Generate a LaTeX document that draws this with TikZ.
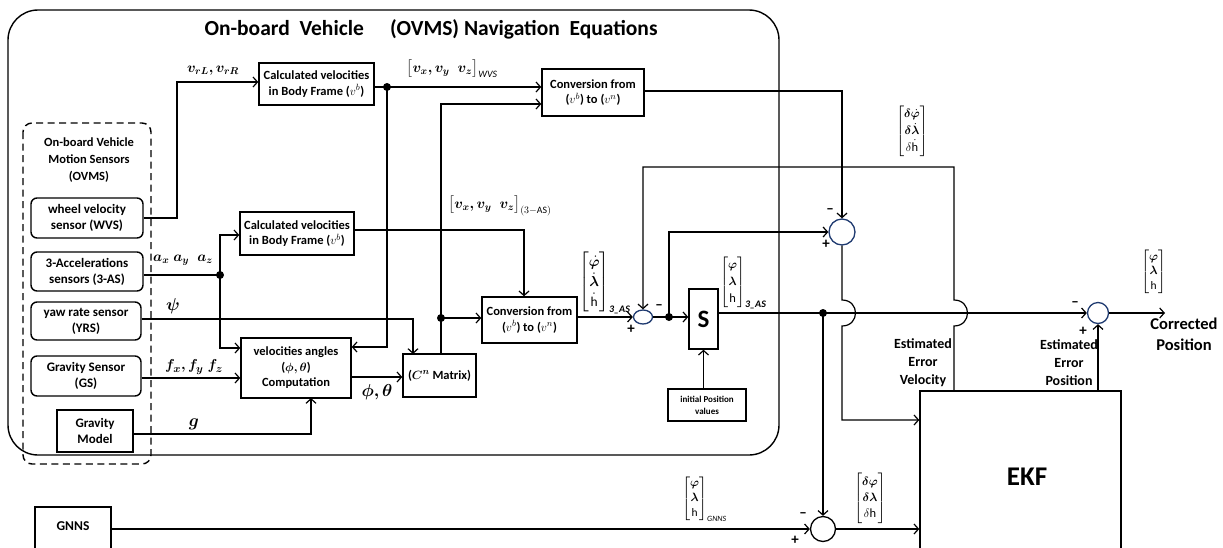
\documentclass[tikz,border=0pt]{standalone}
\usepackage{amsmath,bm}
\usepackage{fontspec}
\setmainfont{Carlito}
\usetikzlibrary{arrows.meta,shapes.geometric,calc}
\definecolor{sumblue}{HTML}{1F3A70}
\tikzset{
 blk/.style={draw, line width=1.4pt, align=center, font=\bfseries\fontsize{12.5}{15.5}\selectfont, inner sep=1pt},
 sensbox/.style={blk, rounded corners=6, font=\bfseries\fontsize{13}{16}\selectfont},
 sumc/.style={draw=sumblue, line width=1.3pt, ellipse, inner sep=0pt},
 ln/.style={line width=1.2pt},
 arr/.style={ln, -{Straight Barb[length=4.5pt,width=10pt,line width=1.2pt]}},
 jdot/.style={circle, fill, inner sep=0pt, minimum size=8pt},
 lbl/.style={font=\bfseries\fontsize{14}{18}\selectfont, align=center},
 mlbl/.style={font=\fontsize{14}{16}\selectfont, inner sep=0pt},
 mat/.style={inner sep=0pt, anchor=west},
 sgn/.style={font=\bfseries\fontsize{15}{15}\selectfont, inner sep=0pt},
}
\newcommand{\subAS}{\text{\bfseries\itshape\fontsize{10}{10}\selectfont 3\_AS}}
\begin{document}
\begin{tikzpicture}[x=1pt,y=-1pt]
\useasboundingbox (0,0) rectangle (1223,547);
\clip (0,0) rectangle (1223,547);
\renewcommand{\arraystretch}{1.15}
% outer frame
\draw[line width=1.4pt, rounded corners=30] (8,10) rectangle (779,455);
\node[font=\bfseries\fontsize{21.5}{24}\selectfont] (title) at (431,29) {On-board\ \ Vehicle\quad\ (OVMS) Navigation\ \ Equations};
% sensors
\draw[line width=1.4pt, dash pattern=on 7pt off 4.5pt, rounded corners=9] (23,123) rectangle (151,464);
\node[lbl, font=\bfseries\fontsize{12.5}{17}\selectfont] (hdr) at (89,160) {On-board Vehicle\\Motion Sensors\\(OVMS)};
\node[sensbox, minimum width=112, minimum height=40] (wvs) at (87,218) {wheel velocity\\sensor (WVS)};
\node[sensbox, minimum width=112, minimum height=39] (as3) at (87,271.5) {3-Accelerations\\sensors (3-AS)};
\node[sensbox, minimum width=110, minimum height=38] (yrs) at (86,321) {yaw rate sensor\\(YRS)};
\node[sensbox, minimum width=110, minimum height=40] (gs) at (86,376) {Gravity Sensor\\(GS)};
\node[blk, minimum width=76, minimum height=42, font=\bfseries\fontsize{13}{16}\selectfont] (gm) at (95,431) {Gravity\\Model};
% blocks
\node[blk, minimum width=115, minimum height=42] (cv1) at (316.5,84) {Calculated velocities\\in Body Frame ($v^{b}$)};
\node[blk, minimum width=114, minimum height=43] (cv2) at (297,233.5) {Calculated velocities\\in Body Frame ($v^{b}$)};
\node[blk, minimum width=110, minimum height=60] (va) at (296,368) {velocities angles\\($\bm{\phi,\theta}$)\\Computation};
\node[blk, minimum width=73, minimum height=43] (cn) at (439.5,375.5) {($\bm{C^{n}}$ Matrix)};
\node[blk, minimum width=102, minimum height=47] (conv1) at (593,92.5) {Conversion from\\($v^{b}$) to ($v^{n}$)};
\node[blk, minimum width=95, minimum height=46] (conv2) at (529.5,320) {Conversion from\\($v^{b}$) to ($v^{n}$)};
\node[blk, minimum width=29, minimum height=60, font=\bfseries\fontsize{25}{25}\selectfont] (sbox) at (703.5,319) {S};
\node[blk, minimum width=78, minimum height=32, font=\bfseries\fontsize{9}{12}\selectfont] (ipv) at (707,405) {initial Position\\values};
\node[blk, minimum width=201, minimum height=209] (ekf) at (1020.5,495.5) {};
\node[font=\bfseries\fontsize{27}{27}\selectfont] (ekft) at (1027,477) {EKF};
\node[blk, minimum width=76, minimum height=93] (gnns) at (73,553.5) {};
\node[font=\bfseries\fontsize{13.5}{14}\selectfont] (gnnst) at (73,526) {GNNS};
% summing junctions
\node[sumc, minimum width=19, minimum height=14] (s1) at (643,317) {};
\node[sumc, minimum width=26, minimum height=26] (s2) at (842,232) {};
\node[sumc, minimum width=21, minimum height=21] (s3) at (1098,313) {};
\node[sumc, draw=black, minimum width=25, minimum height=25] (s4) at (823,529) {};
% junction dots
\node[jdot] (d1) at (387,87) {};
\node[jdot] (d2) at (220,275) {};
\node[jdot] (d4) at (441,318) {};
\node[jdot] (d3) at (669,317) {};
\node[jdot] (d5) at (823,313) {};
\coordinate (cpout) at (1165,313);
% connectors
\draw[arr] (wvs.east) -- (177,218) -- (177,82) -- (cv1.west |- 0,82);
\draw[arr] (cv1.east |- 0,87) -- (d1.center) -- (conv1.west |- 0,87);
\draw[arr] (d1.center) -- (387,347) -- (va.east |- 0,347);
\draw[ln] (as3.east |- 0,275) -- (d2.center);
\draw[arr] (d2.center) -- (220,235) -- (cv2.west |- 0,235);
\draw[arr] (d2.center) -- (220,348) -- (va.west |- 0,348);
\draw[arr] (yrs.east |- 0,319) -- (413,319) -- (413,354);
\draw[arr] (gs.east |- 0,378) -- (va.west |- 0,378);
\draw[arr] (gm.east |- 0,434) -- (311,434) -- (311,398);
\draw[arr] (va.east |- 0,377) -- (cn.west |- 0,377);
\draw[arr] (cv2.east |- 0,230) -- (524,230) -- (conv2.north -| 524,0);
\draw[arr] (441,354) -- (441,104) -- (conv1.west |- 0,104);
\draw[arr] (d4.center) -- (conv2.west |- 0,318);
\draw[arr] (conv2.east |- 0,317) -- (s1.west);
\draw[ln] (s1.east) -- (d3.center);
\draw[arr] (d3.center) -- (sbox.west |- 0,317);
\draw[arr] (d3.center) -- (669,232) -- (s2.west);
\draw[arr] (conv1.east |- 0,91) -- (842,91) -- (s2.north);
\draw[arr] (ipv.north -| sbox.south) -- (sbox.south);
\draw[arr] (sbox.east |- 0,313) -- (d5.center) -- (s3.west);
\draw[arr] (d5.center) -- (s4.north);
% EKF feedback (velocity) with hop
\draw[arr] (954,391) -- (954,326) .. controls (972,326) and (972,300) .. (954,300) -- (954,167) -- (643,167) -- (s1.north);
\draw[arr] (s2.south) -- (842,300) .. controls (860,300) and (860,326) .. (842,326) -- (842,420) -- (ekf.west |- 0,420);
\draw[arr] (1098,391) -- (s3.south);
\draw[arr] (s3.east) -- (cpout);
\draw[arr] (gnns.east |- 0,529) -- (s4.west);
\draw[arr] (s4.east) -- (ekf.west |- 0,529);
% labels
\node[mlbl] (lv) at (213,71) {$\bm{v_{rL}, v_{rR}}$};
\node[mlbl] (lwvs) at (452,69) {$\bigl[\bm{v_x, v_y\;\; v_z}\bigr]_{\text{\itshape WVS}}$};
\node[mlbl] (l3as) at (500,206) {$\bigl[\bm{v_x, v_y\;\; v_z}\bigr]_{(3-\mathrm{AS})}$};
\node[mlbl] (la) at (183,260) {$\bm{a_x\; a_y\;\; a_z}$};
\node[mlbl, font=\fontsize{16}{18}\selectfont] (lpsi) at (173,306) {$\bm{\psi}$};
\node[mlbl, font=\fontsize{15}{17}\selectfont] (lf) at (194,367) {$\bm{f_x, f_y\; f_z}$};
\node[mlbl, font=\fontsize{16}{18}\selectfont] (lg) at (194,424) {$\bm{g}$};
\node[mlbl, font=\fontsize{17}{19}\selectfont] (lpt) at (377,392) {$\bm{\phi, \theta}$};
\node[mat, font=\fontsize{13.5}{16}\selectfont] (m1) at (579,283) {\renewcommand{\arraystretch}{1.25}$\left[\begin{matrix}\dot{\bm\varphi}\\ \dot{\bm\lambda}\\ \dot{\mathrm h}\end{matrix}\right]_{\subAS}$};
\node[mat, font=\fontsize{12.5}{14.5}\selectfont] (m2) at (720,283) {$\left[\begin{matrix}\bm\varphi\\ \bm\lambda\\ \mathrm h\end{matrix}\right]_{\subAS}$};
\node[mat, font=\fontsize{12.5}{14.5}\selectfont] (m3) at (896,131) {$\left[\begin{matrix}\bm{\delta\dot\varphi}\\ \bm{\delta\dot\lambda}\\ \delta\dot{\mathrm h}\end{matrix}\right]$};
\node[mat, font=\fontsize{11.5}{13}\selectfont] (m4) at (1141,272) {$\left[\begin{matrix}\bm\varphi\\ \bm\lambda\\ \mathrm h\end{matrix}\right]$};
\node[mat, font=\fontsize{11.5}{13}\selectfont] (m5) at (682,499) {$\left[\begin{matrix}\bm\varphi\\ \bm\lambda\\ \mathrm h\end{matrix}\right]_{\text{\itshape GNNS}}$};
\node[mat, font=\fontsize{12.5}{14}\selectfont] (m6) at (854,498) {$\left[\begin{matrix}\bm{\delta\varphi}\\ \bm{\delta\lambda}\\ \delta\mathrm h\end{matrix}\right]$};
\node[lbl] (eev) at (923,363) {Estimated\\Error\\Velocity};
\node[lbl] (eep) at (1069,363) {Estimated\\Error\\Position};
\node[lbl, font=\bfseries\fontsize{16.5}{21}\selectfont] (corr) at (1184,334) {Corrected\\Position};
% signs
\node[sgn] (s1m) at (659,307) {--};
\node[sgn] (s1p) at (631,329) {+};
\node[sgn] (s2m) at (830,211) {--};
\node[sgn] (s2p) at (826,244) {+};
\node[sgn] (s3m) at (1075,304) {--};
\node[sgn] (s3p) at (1083,331) {+};
\node[sgn] (s4m) at (803,515) {--};
\node[sgn] (s4p) at (795,540) {+};
\end{tikzpicture}
\end{document}
